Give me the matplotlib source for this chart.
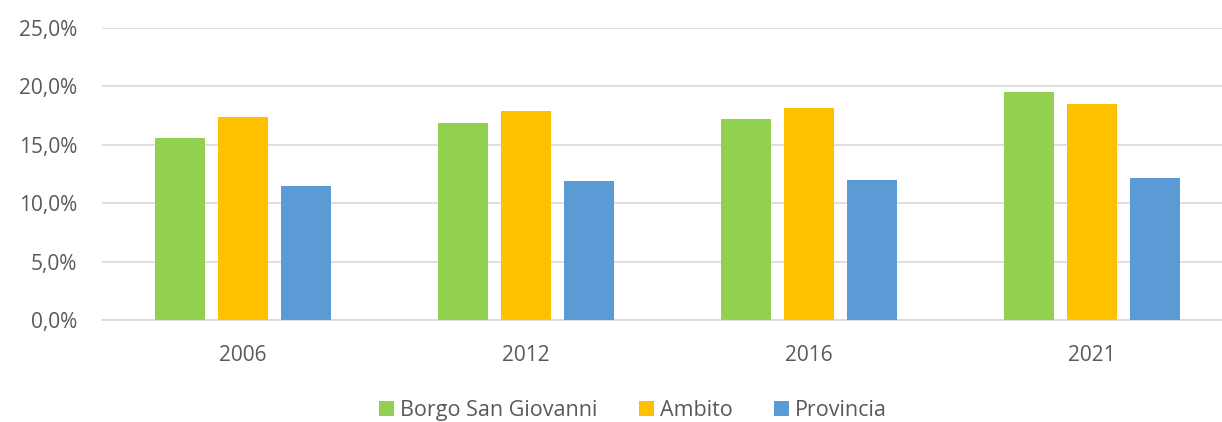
import matplotlib
matplotlib.use("Agg")
import matplotlib.pyplot as plt
import numpy as np
from matplotlib.ticker import FuncFormatter

years = ["2006", "2012", "2016", "2021"]
borgo = [15.6, 16.9, 17.2, 19.5]
ambito = [17.4, 17.9, 18.15, 18.5]
provincia = [11.5, 11.9, 12.0, 12.15]

series = [("Borgo San Giovanni", borgo, "#92D050"),
          ("Ambito", ambito, "#FFC000"),
          ("Provincia", provincia, "#5B9BD5")]

plt.rcParams['font.family'] = ['Open Sans', 'DejaVu Sans']
text_color = "#595959"

fig = plt.figure(figsize=(12.22, 4.22), dpi=100)
ax = fig.add_axes([102 / 1222, (422 - 320) / 422, 1 - 102 / 1222, (320 - 28) / 422])

x = np.arange(len(years))
width = 0.177
step = 0.223
for i, (name, vals, color) in enumerate(series):
    ax.bar(x + (i - 1) * step, vals, width, color=color, label=name, zorder=3)

ax.set_ylim(0, 25)
ax.set_yticks(np.arange(0, 26, 5))
ax.yaxis.set_major_formatter(FuncFormatter(lambda v, p: f"{v:.1f}%".replace(".", ",")))
ax.set_xlim(-0.498, 3.459)
ax.set_xticks(x)
ax.set_xticklabels(years)

ax.grid(axis="y", color="#D9D9D9", linewidth=1.2, zorder=0)
for s in ["top", "right", "left"]:
    ax.spines[s].set_visible(False)
ax.spines["bottom"].set_color("#D9D9D9")
ax.spines["bottom"].set_linewidth(1.2)
ax.tick_params(length=0, labelsize=15, labelcolor=text_color)
ax.tick_params(axis="y", pad=18)
ax.tick_params(axis="x", pad=18)

fig.legend(loc="center", bbox_to_anchor=(0.518, 0.027), ncol=3, frameon=False,
           fontsize=15.5, labelcolor=text_color, handlelength=0.7, handleheight=0.7,
           handletextpad=0.3, columnspacing=1.9)

fig.savefig("out.png", dpi=100)
